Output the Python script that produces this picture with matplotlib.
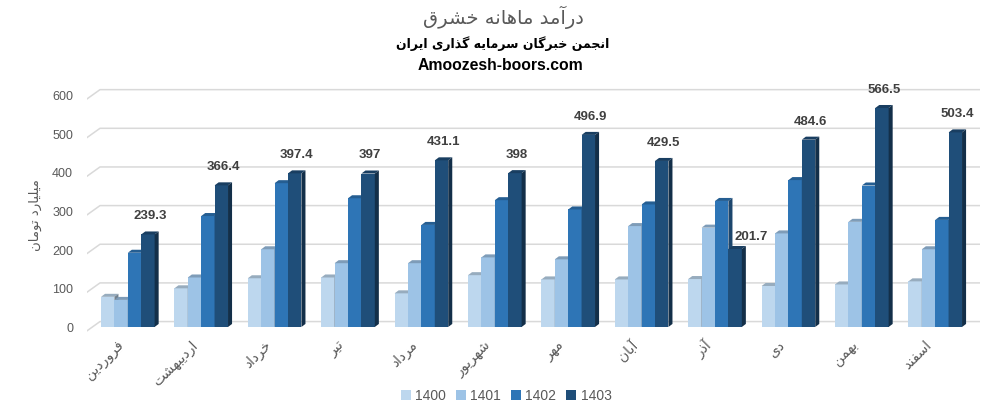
import matplotlib
matplotlib.use("Agg")
import matplotlib.pyplot as plt
from matplotlib.patches import Polygon, Patch

months = ["فروردین", "اردیبهشت", "خرداد", "تیر", "مرداد", "شهریور",
          "مهر", "آبان", "آذر", "دی", "بهمن", "اسفند"]
years = ["1400", "1401", "1402", "1403"]
v1400 = [78, 100, 126, 128, 87, 134, 123, 123, 124, 106, 110, 118]
v1401 = [70, 128, 201, 165, 165, 180, 175, 261, 257, 242, 272, 201]
v1402 = [192, 287, 372, 333, 264, 328, 304, 317, 326, 380, 366, 277]
v1403 = [239.3, 366.4, 397.4, 397, 431.1, 398, 496.9, 429.5, 201.7, 484.6, 566.5, 503.4]
yticks = [0, 100, 200, 300, 400, 500, 600]

title = "درآمد ماهانه خشرق"
subtitle = "انجمن خبرگان سرمایه گذاری ایران"
site = "Amoozesh-boors.com"
ylabel = "میلیارد تومان"

front = ["#BDD7EE", "#9DC3E6", "#2E75B6", "#1F4E79"]

# matplotlib does no arabic shaping, so pick presentation forms by hand
# (isolated, final, initial, medial)
FORMS = {
    "ا": ("\ufe8d", "\ufe8e", None, None),
    "آ": ("\ufe81", "\ufe82", None, None),
    "ب": ("\ufe8f", "\ufe90", "\ufe91", "\ufe92"),
    "ت": ("\ufe95", "\ufe96", "\ufe97", "\ufe98"),
    "ج": ("\ufe9d", "\ufe9e", "\ufe9f", "\ufea0"),
    "خ": ("\ufea5", "\ufea6", "\ufea7", "\ufea8"),
    "د": ("\ufea9", "\ufeaa", None, None),
    "ذ": ("\ufeab", "\ufeac", None, None),
    "ر": ("\ufead", "\ufeae", None, None),
    "س": ("\ufeb1", "\ufeb2", "\ufeb3", "\ufeb4"),
    "ش": ("\ufeb5", "\ufeb6", "\ufeb7", "\ufeb8"),
    "ف": ("\ufed1", "\ufed2", "\ufed3", "\ufed4"),
    "ق": ("\ufed5", "\ufed6", "\ufed7", "\ufed8"),
    "ل": ("\ufedd", "\ufede", "\ufedf", "\ufee0"),
    "م": ("\ufee1", "\ufee2", "\ufee3", "\ufee4"),
    "ن": ("\ufee5", "\ufee6", "\ufee7", "\ufee8"),
    "ه": ("\ufee9", "\ufeea", "\ufeeb", "\ufeec"),
    "و": ("\ufeed", "\ufeee", None, None),
    "ی": ("\ufbfc", "\ufbfd", "\ufbfe", "\ufbff"),
    "گ": ("\ufb92", "\ufb93", "\ufb94", "\ufb95"),
}


def fa(text):
    out = []
    for i, ch in enumerate(text):
        if ch not in FORMS:
            out.append(ch)
            continue
        iso, fin, ini, med = FORMS[ch]
        prev = text[i - 1] if i > 0 else ""
        nxt = text[i + 1] if i + 1 < len(text) else ""
        join_prev = prev in FORMS and FORMS[prev][2] is not None
        join_next = ini is not None and nxt in FORMS
        if join_prev and join_next:
            out.append(med)
        elif join_prev:
            out.append(fin)
        elif join_next:
            out.append(ini)
        else:
            out.append(iso)
    return "".join(reversed(out))


def shade(c, f):
    r, g, b = matplotlib.colors.to_rgb(c)
    return (r * f, g * f, b * f)


FA = ["DejaVu Sans"]
NUM = ["Liberation Sans", "DejaVu Sans"]
GRAY = "#595959"

fig = plt.figure(figsize=(10.07, 4.17), dpi=100)
ax = fig.add_axes([87 / 1007, (417 - 334.7) / 417, 893 / 1007, 255.1 / 417])
x0, x1 = -0.556, 11.61
ax.set_xlim(x0, x1)
ax.set_ylim(-20, 640)
ax.axis("off")

# back wall grid with the little perspective kink on the left
gdx = 0.177
for v in yticks:
    ax.plot([x0, x0 + gdx, x1], [v - 10, v + 14, v + 14], color="#D9D9D9", lw=1.1, zorder=0)
    ax.annotate(str(v), (x0, v), xytext=(-10, -1.5), textcoords="offset points",
                ha="right", va="center", fontsize=9, color=GRAY, family=NUM)

W = 0.1826
DX = 0.055
DY = 7.8
series = [v1400, v1401, v1402, v1403]
for i in range(len(months)):
    for k, vals in enumerate(series):
        h = vals[i]
        left = i + (k - 2) * W
        z = 2 + i * 10 + k
        ax.add_patch(Polygon([(left, 0), (left + W, 0), (left + W, h), (left, h)],
                             closed=True, fc=front[k], ec="none", zorder=z))
        ax.add_patch(Polygon([(left, h), (left + W, h), (left + W + DX, h + DY), (left + DX, h + DY)],
                             closed=True, fc=shade(front[k], 0.8), ec="none", zorder=z))
        ax.add_patch(Polygon([(left + W, 0), (left + W + DX, DY), (left + W + DX, h + DY), (left + W, h)],
                             closed=True, fc=shade(front[k], 0.6), ec="none", zorder=z))
    h = v1403[i]
    # excel nudges the label aside when the neighbouring bar is in the way
    dx_pt, dy_pt = (10, 2) if v1402[i] > h else (0, 6.5)
    ax.annotate(f"{h:g}", (i + W * 1.5 + DX / 2, h + DY), xytext=(dx_pt, dy_pt), textcoords="offset points",
                ha="center", va="bottom", fontsize=9.5, weight="bold", color="#404040",
                family=NUM, zorder=500)
    ax.annotate(fa(months[i]), (i, 0), xytext=(-8, -8), textcoords="offset points",
                ha="right", va="top", rotation=45, rotation_mode="anchor",
                fontsize=10, color=GRAY, family=FA)

fig.text(35 / 1007, 1 - 215 / 417, fa(ylabel), rotation=90, ha="center", va="center",
         fontsize=9.5, color=GRAY, family=FA)
fig.text(503 / 1007, 1 - 17 / 417, fa(title), ha="center", va="center",
         fontsize=14, color=GRAY, family=FA)
fig.text(503 / 1007, 1 - 44 / 417, fa(subtitle), ha="center", va="center",
         fontsize=9, weight="bold", color="black", family=FA)
fig.text(500 / 1007, 1 - 65 / 417, site, ha="center", va="center",
         fontsize=11.3, weight="bold", color="black", family=NUM)

handles = [Patch(fc=c, ec="none") for c in front]
fig.legend(handles, years, loc="center", bbox_to_anchor=(506 / 1007, 1 - 396 / 417), ncol=4,
           frameon=False, prop={"family": NUM, "size": 10}, labelcolor=GRAY,
           handlelength=0.75, handleheight=0.75, handletextpad=0.3, columnspacing=0.7)

fig.savefig("out.png", dpi=100)
